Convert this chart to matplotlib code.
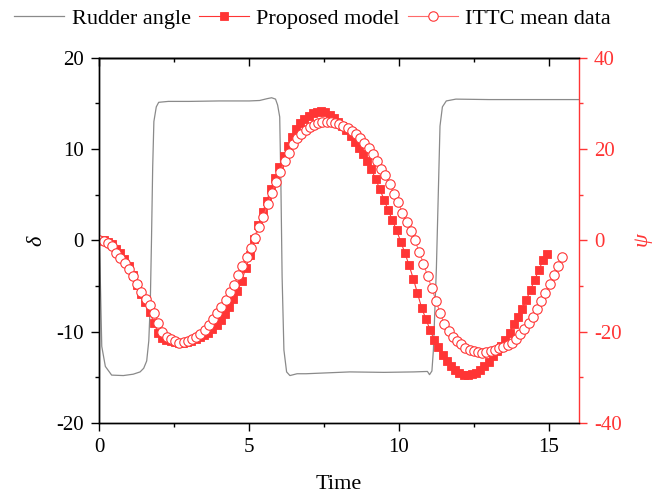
import numpy as np
import matplotlib
matplotlib.use("Agg")
import matplotlib.pyplot as plt
from matplotlib.ticker import MultipleLocator

plt.rcParams["font.family"] = "Liberation Serif"
plt.rcParams["mathtext.fontset"] = "custom"
plt.rcParams["mathtext.rm"] = "Liberation Serif"
plt.rcParams["mathtext.it"] = "Liberation Serif:italic"
plt.rcParams["axes.unicode_minus"] = False

RED = "#ff3535"
LIGHT_RED = "#ff6a6a"
GREY = "#8a8a8a"

# rudder angle (deg) vs time
rudder_t = [0.0, 0.03, 0.08, 0.2, 0.41, 0.8, 1.13, 1.36, 1.48, 1.58, 1.65, 1.7,
            1.74, 1.78, 1.82, 1.9, 1.98, 2.3, 3.0, 4.0, 5.0, 5.35, 5.6, 5.75,
            5.88, 5.95, 6.02, 6.06, 6.1, 6.16, 6.25, 6.36, 6.6, 6.9, 8.36, 9.5,
            10.5, 10.95, 11.02, 11.1, 11.15, 11.25, 11.32, 11.37, 11.45, 11.58,
            11.9, 13.0, 14.5, 16.0]
rudder_deg = [0.0, -4.0, -11.6, -13.8, -14.75, -14.8, -14.65, -14.4, -14.0, -13.2,
              -11.0, -6.9, 0.0, 8.0, 13.0, 14.6, 15.1, 15.2, 15.2, 15.25, 15.25,
              15.3, 15.5, 15.6, 15.45, 14.8, 13.5, 6.0, -4.0, -12.0, -14.4, -14.8,
              -14.6, -14.6, -14.4, -14.45, -14.4, -14.35, -14.7, -14.3, -12.0, -3.0,
              6.0, 12.5, 14.6, 15.25, 15.45, 15.4, 15.4, 15.4]

# heading angle, simulated by the proposed model
model_end = 14.95
model_psi = [0.0, 0.0, -0.3, -0.9, -1.8, -2.8, -4.1, -5.6, -7.5, -9.7,
             -11.8, -13.6, -15.6, -18.0, -20.2, -21.4, -21.9, -22.1, -22.3, -22.5,
             -22.5, -22.3, -22.0, -21.7, -21.2, -20.8, -20.3, -19.4, -18.5, -17.4,
             -16.2, -14.6, -12.9, -11.2, -8.8, -6.1, -3.2, 0.2, 3.3, 6.1,
             8.7, 11.2, 13.6, 16.0, 18.4, 20.6, 22.6, 24.3, 25.6, 26.6,
             27.3, 27.8, 28.1, 28.2, 28.0, 27.5, 26.8, 26.0, 25.1, 24.1,
             22.9, 21.5, 20.2, 18.8, 17.3, 15.5, 13.4, 11.2, 8.9, 6.6,
             4.4, 2.2, -0.3, -2.8, -5.5, -8.4, -11.6, -14.8, -17.2, -19.6,
             -21.8, -23.4, -25.0, -26.4, -27.5, -28.4, -29.0, -29.4, -29.5, -29.3,
             -29.0, -28.4, -27.6, -26.6, -25.4, -24.3, -23.1, -21.8, -20.2, -18.4,
             -16.7, -15.0, -13.0, -10.9, -8.6, -6.5, -4.3, -2.9]

# heading angle, ITTC mean data
ittc_end = 15.45
ittc_psi = [0.0, -0.1, -0.5, -1.2, -2.7, -3.9, -5.0, -6.3, -7.9, -9.5,
            -11.3, -12.9, -14.2, -15.8, -18.1, -20.0, -21.1, -21.6, -22.0, -22.4,
            -22.3, -22.0, -21.7, -21.2, -20.5, -19.6, -18.5, -17.3, -16.0, -14.6,
            -13.0, -11.4, -9.8, -7.6, -5.6, -3.6, -1.6, 0.6, 2.9, 5.2,
            7.9, 10.4, 12.7, 15.0, 17.4, 19.2, 21.0, 22.3, 23.3, 24.1,
            24.8, 25.3, 25.6, 25.8, 26.0, 25.9, 25.7, 25.4, 25.0, 24.5,
            23.9, 23.2, 22.3, 21.3, 20.1, 18.8, 17.4, 15.7, 14.2, 12.4,
            10.1, 8.4, 6.0, 3.9, 2.0, 0.0, -2.5, -5.1, -7.8, -10.5,
            -13.2, -16.0, -18.3, -19.8, -21.1, -22.0, -22.8, -23.5, -24.0, -24.3,
            -24.5, -24.6, -24.4, -24.2, -24.0, -23.6, -23.3, -22.9, -22.4, -21.6,
            -20.5, -19.3, -18.1, -16.7, -15.0, -13.3, -11.6, -9.5, -7.7, -5.7,
            -3.7]

model_t = np.linspace(0, model_end, len(model_psi))
ittc_t = np.linspace(0, ittc_end, len(ittc_psi))

fig = plt.figure(figsize=(6.58, 4.96), dpi=100)
ax = fig.add_axes([0.151, 0.147, 0.7285, 0.737])
ax2 = ax.twinx()

l1, = ax.plot(rudder_t, rudder_deg, color=GREY, lw=0.9, label="Rudder angle")
l2, = ax2.plot(model_t, model_psi, color=RED, lw=0.8, marker="s", ms=5.5,
               mfc=RED, mec=RED, mew=0.6, label="Proposed model")
l3, = ax2.plot(ittc_t, ittc_psi, color=LIGHT_RED, lw=0.8, marker="o", ms=6.8,
               mfc="white", mec=RED, mew=0.8, label="ITTC mean data")

ax.set_xlim(0, 16)
ax.set_ylim(-20, 20)
ax2.set_ylim(-40, 40)

ax.xaxis.set_major_locator(MultipleLocator(5))
ax.xaxis.set_minor_locator(MultipleLocator(2.5))
ax.yaxis.set_major_locator(MultipleLocator(10))
ax.yaxis.set_minor_locator(MultipleLocator(5))
ax2.yaxis.set_major_locator(MultipleLocator(20))
ax2.yaxis.set_minor_locator(MultipleLocator(10))

ax.tick_params(which="major", direction="out", length=6, width=1.0, labelsize=15, pad=5)
ax.tick_params(which="minor", direction="out", length=3, width=1.0)
ax2.tick_params(axis="y", which="major", direction="out", length=6, width=1.0,
                labelsize=15, pad=5, colors=RED)
ax2.tick_params(axis="y", which="minor", direction="out", length=3, width=1.0, colors=RED)

# top axis: inward ticks only
top = ax.secondary_xaxis("top")
top.xaxis.set_major_locator(MultipleLocator(5))
top.xaxis.set_minor_locator(MultipleLocator(2.5))
top.tick_params(which="major", direction="in", length=6, width=1.0, labeltop=False)
top.tick_params(which="minor", direction="in", length=3, width=1.0)

for sp in ["left", "bottom", "top"]:
    ax.spines[sp].set_linewidth(1.0)
    ax2.spines[sp].set_linewidth(1.0)
top.spines["top"].set_linewidth(1.0)
ax2.spines["right"].set_color(RED)
ax2.spines["right"].set_linewidth(1.0)
ax.spines["right"].set_visible(False)

ax.set_xlabel("Time", fontsize=16, labelpad=13)
ax.set_ylabel(r"$\delta$", fontsize=16, labelpad=7)
ax2.set_ylabel(r"$\psi$", fontsize=16, labelpad=8, color=RED)

fig.legend(handles=[l1, l2, l3], loc="center", bbox_to_anchor=(0.475, 0.963),
           ncol=3, frameon=False, fontsize=16, handlelength=2.25,
           handletextpad=0.35, columnspacing=0.35, borderaxespad=0, borderpad=0)

fig.savefig("out.png", dpi=100)
